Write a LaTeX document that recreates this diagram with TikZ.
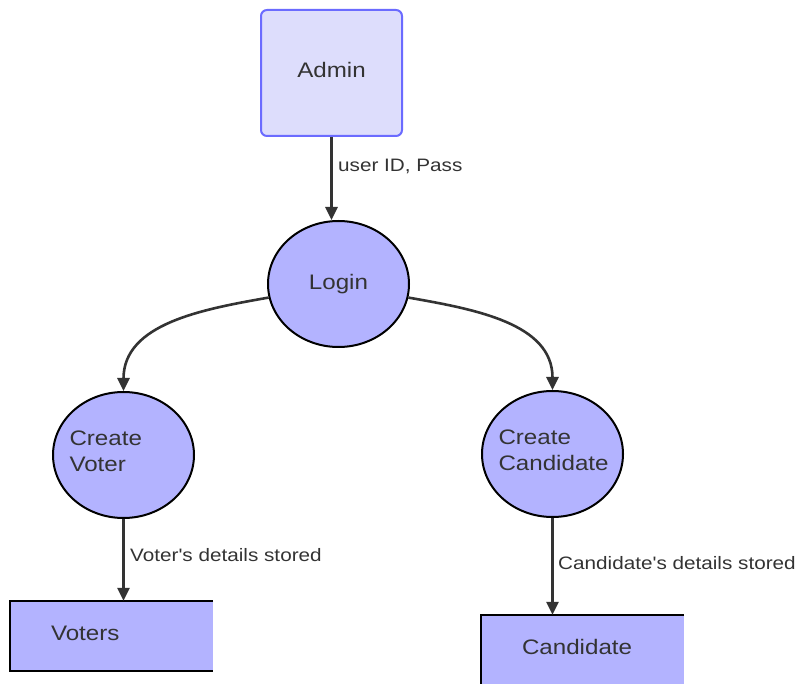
\documentclass[tikz,border=0pt]{standalone}
\usepackage{fontspec}
\setmainfont{Liberation Sans}[Ligatures=TeXOff,FakeStretch=1.15]
\usepackage{xcolor}
\usetikzlibrary{shapes.geometric,arrows.meta}

\definecolor{fondadmin}{HTML}{DDDDFC}
\definecolor{bordadmin}{HTML}{6B6BFF}
\definecolor{bulle}{HTML}{B3B3FF}
\definecolor{encre}{HTML}{333333}

\begin{document}
\begin{tikzpicture}[x=1pt,y=1pt,text=encre,font=\fontsize{21}{26}\selectfont,
   acteur/.style={rectangle,rounded corners=6pt,draw=bordadmin,fill=fondadmin,line width=2pt,minimum width=141pt,minimum height=126pt,text depth=6pt},
   processus/.style={ellipse,draw=black,fill=bulle,line width=2pt,minimum width=141pt,minimum height=126pt},
   processus long/.style={processus,text width=108pt,align=left,inner xsep=-4.2pt,text depth=34pt},
   stockage/.style={rectangle,fill=bulle,minimum height=70pt,text width=121pt,inner xsep=41pt,align=left,text depth=6pt},
   bord/.style={draw=black,line width=2pt},
   flux/.style={-{Triangle[length=13pt,width=12pt]},draw=encre,line width=2.6pt},
   etiquette/.style={font=\fontsize{18}{22}\selectfont,anchor=west,inner sep=0pt}]

  \useasboundingbox (0,0) rectangle (798,683);
  \clip (0,0) rectangle (798,683);

  \node[acteur](admin) at (331.5,610) {Admin};
  \node[processus](login) at (338.5,399) {Login};
  \node[processus long](cvoter) at (123.5,228) {Create\\Voter};
  \node[processus long](ccand) at (552.5,229) {Create\\Candidate};
  \node[stockage](voters) at (111.5,47) {Voters};
  \node[stockage](cands) at (582.5,33) {Candidate};

  % bords ouverts a droite
  \foreach \s in {voters,cands}
    \draw[bord] (\s.north east) -- (\s.north west) -- (\s.south west) -- (\s.south east);

  \draw[flux] (admin) -- (admin.south |- login.north);
  \draw[flux] (login.191) to[out=190,in=90] (cvoter.north);
  \draw[flux] (login.-11) to[out=-10,in=90] (ccand.north);
  \draw[flux] (cvoter) -- (cvoter.south |- voters.north);
  \draw[flux] (ccand) -- (ccand.south |- cands.north);

  \node[etiquette](l admin) at (338,517) {user ID, Pass};
  \node[etiquette](l voter) at (130,128) {Voter's details stored};
  \node[etiquette](l cand) at (558,120) {Candidate's details stored};
\end{tikzpicture}
\end{document}
